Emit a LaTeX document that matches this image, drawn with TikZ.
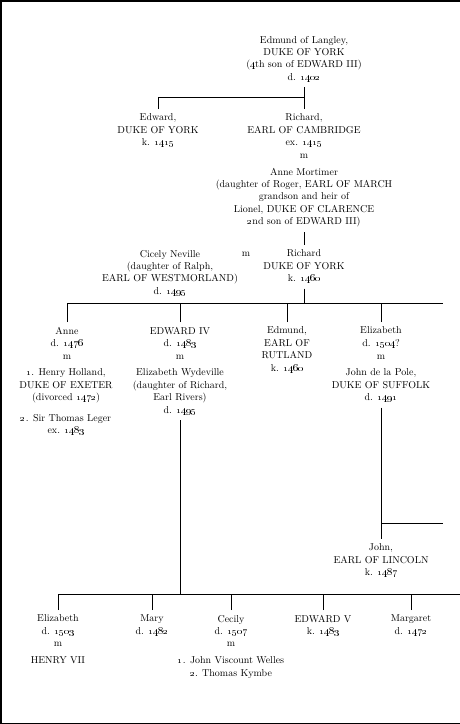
\documentclass[tikz,border=0pt]{standalone}
\begin{document}
\begin{tikzpicture}[x=1pt,y=-1pt,
  person/.style={align=center,anchor=north,inner sep=0pt,outer sep=5pt,font=\fontsize{10}{12.4}\selectfont},
  wed/.style={inner sep=0pt,font=\fontsize{10}{12}\selectfont},
  link/.style={line width=0.8pt}]
\useasboundingbox (0,0) rectangle (460,724);
\draw[line width=1.5pt] (460,0.75) -- (0.75,0.75) -- (0.75,723.25) -- (460,723.25);
% first generations
\node[person] (edmund) at (304,31) {Edmund of Langley,\\DUKE OF YORK\\(\oldstylenums{4}th son of EDWARD III)\\d. \oldstylenums{1402}};
\node[person] (edwardY) at (158,109) {Edward,\\DUKE OF YORK\\k. \oldstylenums{1415}};
\node[person] (richardC) at (304,109) {Richard,\\EARL OF CAMBRIDGE\\ex. \oldstylenums{1415}};
\node[wed] (m1) at (304,156) {m};
\node[person] (anneM) at (304,163) {Anne Mortimer\\(daughter of Roger, EARL OF MARCH\\grandson and heir of\\Lionel, DUKE OF CLARENCE\\\oldstylenums{2}nd son of EDWARD III)};
\node[person] (cicely) at (170,245) {Cicely Neville\\(daughter of Ralph,\\EARL OF WESTMORLAND)\\d. \oldstylenums{1495}};
\node[wed] (m2) at (246,254) {m};
\node[person] (richardY) at (304,245) {Richard\\DUKE OF YORK\\k. \oldstylenums{1460}};
\coordinate (b1) at (304,97);
\draw[link] (edmund.south) -- (richardC.north);
\draw[link] (edwardY.north) |- (b1);
\draw[link] (anneM.south) -- (richardY.north);
% children of Richard and Cicely
\node[person] (anneY) at (67,322) {Anne\\d. \oldstylenums{1476}};
\node[wed] (m3) at (67,357) {m};
\node[person] (holland) at (66,364) {\oldstylenums{1}. Henry Holland,\\DUKE OF EXETER\\(divorced \oldstylenums{1472})\\[8pt]\oldstylenums{2}. Sir Thomas Leger\\ex. \oldstylenums{1483}};
\node[person] (edward4) at (180,322) {EDWARD IV\\d. \oldstylenums{1483}};
\node[wed] (m4) at (180,357) {m};
\node[person] (liz) at (180,364) {Elizabeth Wydeville\\(daughter of Richard,\\Earl Rivers)\\d. \oldstylenums{1495}};
\node[person] (edmundR) at (287,322) {Edmund,\\EARL OF\\RUTLAND\\k. \oldstylenums{1460}};
\node[person] (elizY) at (381,322) {Elizabeth\\d. \oldstylenums{1504}?};
\node[wed] (m5) at (381,357) {m};
\node[person] (john) at (381,364) {John de la Pole,\\DUKE OF SUFFOLK\\d. \oldstylenums{1491}};
\node[person] (lincoln) at (381,539) {John,\\EARL OF LINCOLN\\k. \oldstylenums{1487}};
\coordinate (b2) at (304,303);
\coordinate (b2e) at (443,303);
\draw[link] (richardY.south) -- (b2);
\draw[link] (anneY.north) |- (b2e);
\foreach \c in {edward4,edmundR,elizY}
  \draw[link] (\c.north) -- (\c.north |- b2);
\coordinate (b4) at (381,523);
\coordinate (b4e) at (443,523);
\draw[link] (john.south) -- (lincoln.north);
\draw[link] (b4) -- (b4e);
% children of Edward IV
\node[person] (elizB) at (58,610) {Elizabeth\\d. \oldstylenums{1503}};
\node[wed] (m6) at (58,644) {m};
\node[person] (henry) at (58,652) {HENRY VII};
\node[person] (mary) at (152,610) {Mary\\d. \oldstylenums{1482}};
\node[person] (cecily) at (231,610) {Cecily\\d. \oldstylenums{1507}};
\node[wed] (m7) at (231,644) {m};
\node[person] (welles) at (231,652) {\oldstylenums{1}. John Viscount Welles\\\oldstylenums{2}. Thomas Kymbe};
\node[person] (edward5) at (323,610) {EDWARD V\\k. \oldstylenums{1483}};
\node[person] (margaret) at (411,610) {Margaret\\d. \oldstylenums{1472}};
\coordinate (b3) at (180,594);
\coordinate (b3e) at (460,594);
\draw[link] (liz.south) -- (b3);
\draw[link] (elizB.north) |- (b3e);
\foreach \c in {mary,cecily,edward5,margaret}
  \draw[link] (\c.north) -- (\c.north |- b3);
\end{tikzpicture}
\end{document}
